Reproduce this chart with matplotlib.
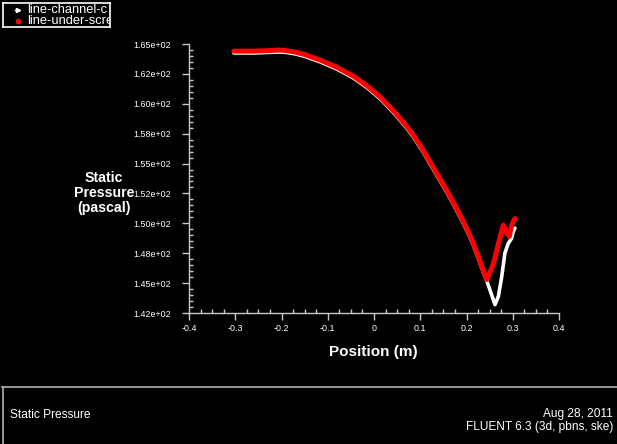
import numpy as np
import matplotlib.pyplot as plt
from matplotlib.ticker import MultipleLocator, AutoMinorLocator, FuncFormatter
from matplotlib.lines import Line2D

plt.rcParams['font.family'] = ['Liberation Sans', 'DejaVu Sans']

# === datos ===
x_canal = [-0.303, -0.26, -0.225, -0.205, -0.19, -0.17, -0.15, -0.116, -0.08, -0.044,
           -0.015, 0.014, 0.045, 0.071, 0.0856, 0.105, 0.1216, 0.14, 0.1575, 0.175, 0.19,
           0.205, 0.215, 0.225, 0.233, 0.2437, 0.251, 0.2616, 0.269, 0.276, 0.283, 0.29,
           0.2976, 0.301, 0.3047]
p_canal = [164.25, 164.25, 164.3, 164.33, 164.3, 164.17, 163.97, 163.5, 162.9, 162.15,
           161.35, 160.4, 159.15, 157.95, 157.2, 156.05, 154.95, 153.75, 152.6, 151.35, 150.25,
           149.05, 148.15, 147.15, 146.25, 145.2, 144.4, 143.2, 143.9, 145.5, 147.5, 148.3,
           148.75, 149.3, 149.6]

x_rejilla = [-0.303, -0.26, -0.225, -0.205, -0.19, -0.17, -0.15, -0.116, -0.08, -0.044,
             -0.015, 0.014, 0.045, 0.071, 0.0856, 0.105, 0.1216, 0.14, 0.1575, 0.175, 0.19,
             0.205, 0.215, 0.225, 0.233, 0.2437, 0.251, 0.258, 0.269, 0.2795, 0.287, 0.2925,
             0.2976, 0.3047]
p_rejilla = [164.4, 164.4, 164.45, 164.5, 164.45, 164.32, 164.12, 163.65, 163.05, 162.3,
             161.5, 160.55, 159.3, 158.1, 157.35, 156.2, 155.1, 153.9, 152.75, 151.5, 150.4,
             149.2, 148.3, 147.3, 146.4, 145.3, 145.9, 146.6, 148.3, 149.85, 149.2, 148.9,
             149.85, 150.4]

etiquetas = ['line-channel-c', 'line-under-scre']
colores = ['white', 'red']

W, H = 617, 444
fig = plt.figure(figsize=(W/100, H/100), dpi=100, facecolor='black')
ax = fig.add_axes([189/W, 1-313/H, (559-189)/W, (313-44)/H], facecolor='black')

ax.plot(x_canal, p_canal, color=colores[0], lw=2.6, solid_capstyle='round', solid_joinstyle='round')
ax.plot(x_rejilla, p_rejilla, color=colores[1], lw=3.6, solid_capstyle='round', solid_joinstyle='round')

ax.set_xlim(-0.4, 0.4)
ax.set_ylim(142.5, 165)
ax.xaxis.set_major_locator(MultipleLocator(0.1))
ax.xaxis.set_minor_locator(AutoMinorLocator(4))
ax.yaxis.set_major_locator(MultipleLocator(2.5))
ax.yaxis.set_minor_locator(AutoMinorLocator(5))
ax.xaxis.set_major_formatter(FuncFormatter(lambda v, p: '0' if abs(v) < 1e-9 else f'{v:.1f}'))
ax.yaxis.set_major_formatter(FuncFormatter(lambda v, p: f'{v:.2e}'))

for s in ['top', 'right']:
    ax.spines[s].set_visible(False)
for s in ['left', 'bottom']:
    ax.spines[s].set_color('#c8c8c8')
    ax.spines[s].set_linewidth(1.0)
ax.tick_params(which='major', direction='out', length=5, width=1, colors='#c8c8c8',
               labelcolor='white', labelsize=6.4)
ax.tick_params(axis='y', which='major', pad=8)
ax.tick_params(axis='x', which='major', pad=3)
ax.tick_params(which='minor', direction='in', length=3, width=1, colors='#c8c8c8')

# etiquetas de los ejes
fig.text(373/W, 1-352/H, 'Position (m)', color='white', fontsize=11, fontweight='bold',
         ha='center', va='center')
fig.text(104/W, 1-193/H, 'Static\nPressure\n(pascal)', color='white', fontsize=10.2,
         fontweight='bold', ha='center', va='center', multialignment='center', linespacing=1.1)

# === leyenda ===
leg = fig.add_axes([3/W, 1-27/H, 107/W, 24/H], facecolor='black')
leg.set_xlim(0, 107)
leg.set_ylim(24, 0)
leg.set_xticks([])
leg.set_yticks([])
for s in leg.spines.values():
    s.set_color('white')
    s.set_linewidth(1.2)
leg.plot([15], [7], marker='>', color='white', ms=3)
leg.plot([12, 15], [7, 7], color='white', lw=1)
leg.plot([15], [18], marker='o', color='red', ms=3)
for i, (lab, c) in enumerate(zip(etiquetas, colores)):
    leg.text(24, 7 + 11*i, lab, color='white', fontsize=9.3, va='center', ha='left', clip_on=True)

# === pie de pagina ===
fig.add_artist(Line2D([2/W, 1], [1-387/H, 1-387/H], color='#b0b0b0', lw=1.2))
fig.add_artist(Line2D([2.5/W, 2.5/W], [0, 1-387/H], color='#b0b0b0', lw=1.2))
fig.text(10/W, 1-415/H, 'Static Pressure', color='white', fontsize=8.6, ha='left', va='center')
fig.text(613/W, 1-414/H, 'Aug 28, 2011', color='white', fontsize=8.6, ha='right', va='center')
fig.text(613/W, 1-427/H, 'FLUENT 6.3 (3d, pbns, ske)', color='white', fontsize=8.6,
         ha='right', va='center')

fig.savefig('out.png', dpi=100, facecolor='black')
